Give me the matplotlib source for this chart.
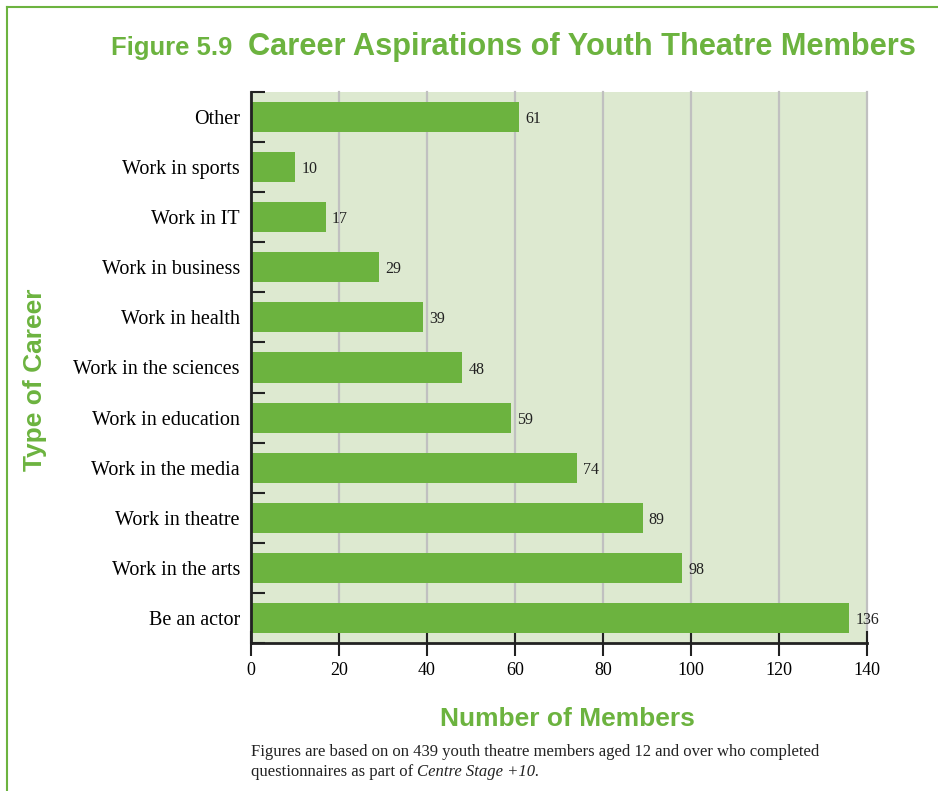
import matplotlib.pyplot as plt
from matplotlib.lines import Line2D

careers = ['Be an actor', 'Work in the arts', 'Work in theatre', 'Work in the media',
           'Work in education', 'Work in the sciences', 'Work in health',
           'Work in business', 'Work in IT', 'Work in sports', 'Other']
members = [136, 98, 89, 74, 59, 48, 39, 29, 17, 10, 61]
xticks = [0, 20, 40, 60, 80, 100, 120, 140]

green = '#6cb33f'
pale = '#dde9d0'
ink = '#222222'
serif = ['Liberation Serif', 'DejaVu Serif']
sans = ['Liberation Sans', 'DejaVu Sans']

fig = plt.figure(figsize=(9.38, 7.91), dpi=100)
ax = fig.add_axes([251 / 938, 148 / 791, 616 / 938, 551 / 791])

pos = list(range(len(careers)))
ax.barh(pos, members, height=0.6, color=green, zorder=3)
for p, v in zip(pos, members):
    ax.text(v + 1.4, p - 0.04, str(v), va='center', ha='left',
            fontsize=11.5, family=serif, color=ink)

ax.set_facecolor(pale)
ax.set_xlim(0, 140)
ax.set_ylim(-0.5, len(careers) - 0.5)
ax.set_xticks(xticks)
ax.set_xticklabels([str(t) for t in xticks], family=serif, fontsize=13)
ax.xaxis.grid(True, color='#c0c0c0', linewidth=1.6, zorder=1)
for gl in ax.get_xgridlines():
    gl.set_clip_on(False)
ax.set_axisbelow(True)

# separators between categories on the y axis, names on minor ticks
ax.set_yticks([p - 0.5 for p in pos] + [len(careers) - 0.5])
ax.set_yticklabels([])
ax.set_yticks(pos, minor=True)
ax.set_yticklabels(careers, minor=True, family=serif, fontsize=14.5)
ax.tick_params(axis='y', which='major', direction='in', length=10, width=1.5, color=ink)
ax.tick_params(axis='y', which='minor', length=0, pad=8)
ax.tick_params(axis='x', direction='inout', length=18, width=1.5, color=ink, pad=5)

for side in ['top', 'right']:
    ax.spines[side].set_visible(False)
for side in ['left', 'bottom']:
    ax.spines[side].set_linewidth(2)
    ax.spines[side].set_color(ink)
    ax.spines[side].set_zorder(4)


def fit_text(x, y, s, width_px, size, **kw):
    # shrink or grow the font so the string spans width_px
    t = fig.text(x / 938, 1 - y / 791, s, fontsize=size, **kw)
    fig.canvas.draw()
    w = t.get_window_extent().width
    t.set_fontsize(size * width_px / w)
    return t


fit_text(111, 48, 'Figure 5.9', 121, 17, fontweight='bold', family=sans, color=green,
         ha='left', va='center')
fit_text(248, 47, 'Career Aspirations of Youth Theatre Members', 667, 22, fontweight='bold',
         family=sans, color=green, ha='left', va='center')
fig.text(567 / 938, 1 - 719 / 791, 'Number of Members', fontsize=19, fontweight='bold',
         family=sans, color=green, ha='center', va='center')
fig.text(35 / 938, 1 - 380 / 791, 'Type of Career', fontsize=19, fontweight='bold',
         family=sans, color=green, ha='center', va='center', rotation=90)

fig.text(251 / 938, 1 - 752 / 791,
         'Figures are based on on 439 youth theatre members aged 12 and over who completed',
         fontsize=12, family=serif, color=ink, ha='left', va='center')
t = fig.text(251 / 938, 1 - 772 / 791, 'questionnaires as part of ',
             fontsize=12, family=serif, color=ink, ha='left', va='center')
fig.canvas.draw()
bb = t.get_window_extent()
fig.text(bb.x1 / 938, 1 - 772 / 791, 'Centre Stage +10.', fontsize=12, family=serif,
         style='italic', color=ink, ha='left', va='center')

# frame lines along the top and left edges
fig.add_artist(Line2D([7 / 938, 7 / 938], [0, 1 - 7 / 791], transform=fig.transFigure,
                      color=green, linewidth=1.5))
fig.add_artist(Line2D([7 / 938, 1], [1 - 7 / 791, 1 - 7 / 791], transform=fig.transFigure,
                      color=green, linewidth=1.5))

fig.savefig('out.png', dpi=100)
